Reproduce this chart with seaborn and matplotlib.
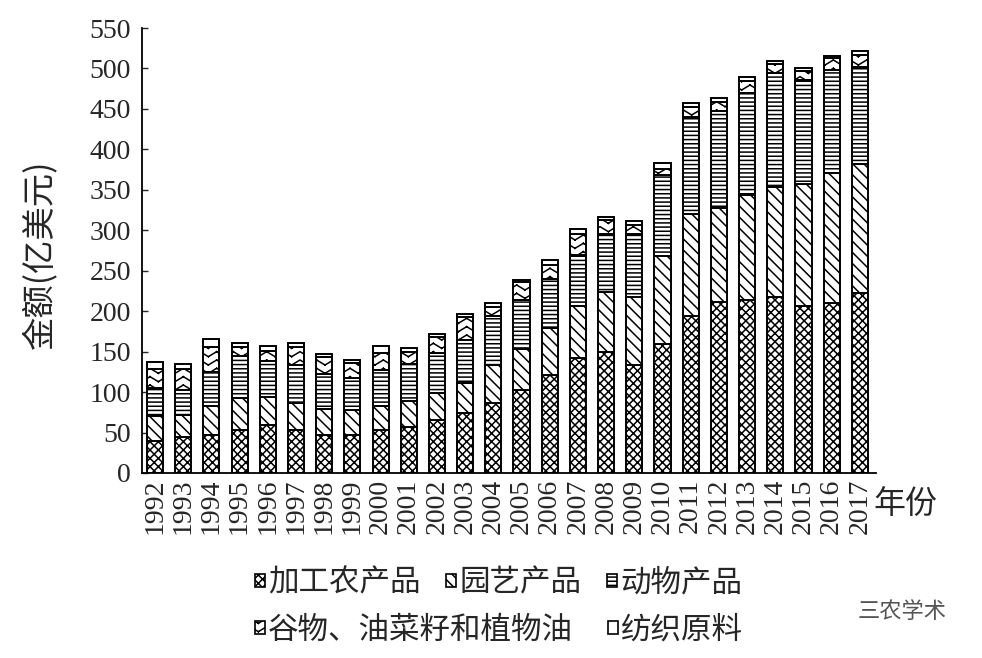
import numpy as np
import seaborn as sns
import matplotlib.pyplot as plt
import matplotlib.hatch as mhatch
from matplotlib.path import Path
from matplotlib.patches import Patch

years = [str(y) for y in range(1992, 2018)]
processed = [40, 44, 47, 53, 59, 53, 47, 47, 53, 57, 66, 74, 87, 102, 121, 142, 150, 133,
             159, 194, 211, 214, 217, 207, 210, 223]
horticulture = [30, 28, 36, 40, 35, 34, 32, 31, 30, 32, 33, 37, 46, 51, 58, 65, 74, 84,
                109, 126, 116, 129, 136, 150, 161, 159]
animal = [35, 31, 42, 51, 45, 46, 43, 39, 44, 46, 49, 53, 61, 61, 61, 63, 72, 79,
          100, 120, 120, 127, 141, 129, 127, 120]
grain_oil = [24, 25, 31, 12, 12, 23, 21, 19, 21, 14, 20, 29, 11, 22, 17, 26, 17, 10,
             8, 12, 11, 15, 11, 11, 15, 15]
textile = [8, 7, 9, 5, 6, 5, 4, 4, 9, 6, 4, 4, 5, 2, 6, 5, 3, 5,
           7, 5, 6, 5, 4, 4, 3, 5]

series = [
    ("加工农产品", processed, "xxxx"),
    ("园艺产品", horticulture, "\\\\\\"),
    ("动物产品", animal, "----"),
    ("谷物、油菜籽和植物油", grain_oil, "*"),
    ("纺织原料", textile, None),
]


class ChevronHatch(mhatch.HatchPatternBase):
    # stands in for the '*' hatch: rows of V shapes, drawn as separate segments
    def __init__(self, hatch, density):
        self.cols = int(hatch.count('*') * density)
        self.rows = 2 * self.cols
        self.num_vertices = self.rows * self.cols * 4

    def set_vertices_and_codes(self, vertices, codes):
        k = 0
        depth = 0.6 / self.rows
        for r in range(self.rows):
            y0 = (r + 0.2) / self.rows
            for c in range(self.cols):
                x0 = c / self.cols
                xm = (c + 0.5) / self.cols
                x1 = (c + 1) / self.cols
                for a, b in [((x0, y0 + depth), (xm, y0)), ((xm, y0), (x1, y0 + depth))]:
                    vertices[k] = a
                    vertices[k + 1] = b
                    codes[k] = Path.MOVETO
                    codes[k + 1] = Path.LINETO
                    k += 2


mhatch._hatch_types = [ChevronHatch if t is mhatch.Stars else t for t in mhatch._hatch_types]

sns.set_style("white")
plt.rcParams['font.family'] = ['Noto Sans CJK SC', 'DejaVu Sans']
plt.rcParams['hatch.linewidth'] = 1.1
plt.rcParams['hatch.color'] = 'black'

fig = plt.figure(figsize=(9.82, 6.58), dpi=100)
ax = fig.add_axes([0.1446, 0.2812, 0.892 - 0.1446, 0.9574 - 0.2812])

bottom = np.zeros(len(years))
for name, vals, hatch in series:
    sns.barplot(x=years, y=vals, bottom=bottom, ax=ax, color="white", edgecolor="black",
                linewidth=1.4, hatch=hatch, width=0.57, saturation=1, errorbar=None)
    bottom += np.array(vals)

ax.set_xlim(-0.46, 25.57)
ax.set_ylim(0, 550)
ax.set_yticks(range(0, 551, 50))
ax.set_xlabel("")
ax.set_ylabel("")
sns.despine(ax=ax)
for side in ['left', 'bottom']:
    ax.spines[side].set_linewidth(1.3)
    ax.spines[side].set_color('black')
ax.tick_params(axis='y', direction='in', length=4, width=1, left=True, pad=8)
ax.tick_params(axis='x', length=0, pad=4)
for lab in ax.get_yticklabels():
    lab.set_fontfamily('Liberation Serif')
    lab.set_fontsize(20)
for lab in ax.get_xticklabels():
    lab.set_fontfamily('Liberation Serif')
    lab.set_fontsize(20)
    lab.set_rotation(90)

fig.text(40 / 982, 1 - 255 / 658, "金额(亿美元)", rotation=90, fontsize=24,
         ha='center', va='center')
fig.text(905 / 982, 1 - 505 / 658, "年份", fontsize=23, ha='center', va='center')

handles = [Patch(facecolor='white', edgecolor='black', hatch=h, linewidth=1.2, label=n)
           for n, v, h in series]
leg1 = fig.legend(handles=handles[:3], loc='center left', bbox_to_anchor=(255 / 982, 1 - 583 / 658),
                  ncol=3, frameon=False, fontsize=22, handlelength=0.32, handleheight=0.32,
                  handletextpad=0.1, columnspacing=0.85, borderpad=0, borderaxespad=0)
leg2 = fig.legend(handles=handles[3:], loc='center left', bbox_to_anchor=(255 / 982, 1 - 630 / 658),
                  ncol=2, frameon=False, fontsize=22, handlelength=0.32, handleheight=0.32,
                  handletextpad=0.1, columnspacing=1.15, borderpad=0, borderaxespad=0)

fig.text(902 / 982, 1 - 612 / 658, "三农学术", fontsize=16, color='#555555',
         ha='center', va='center')

fig.savefig("out.png", dpi=100)
